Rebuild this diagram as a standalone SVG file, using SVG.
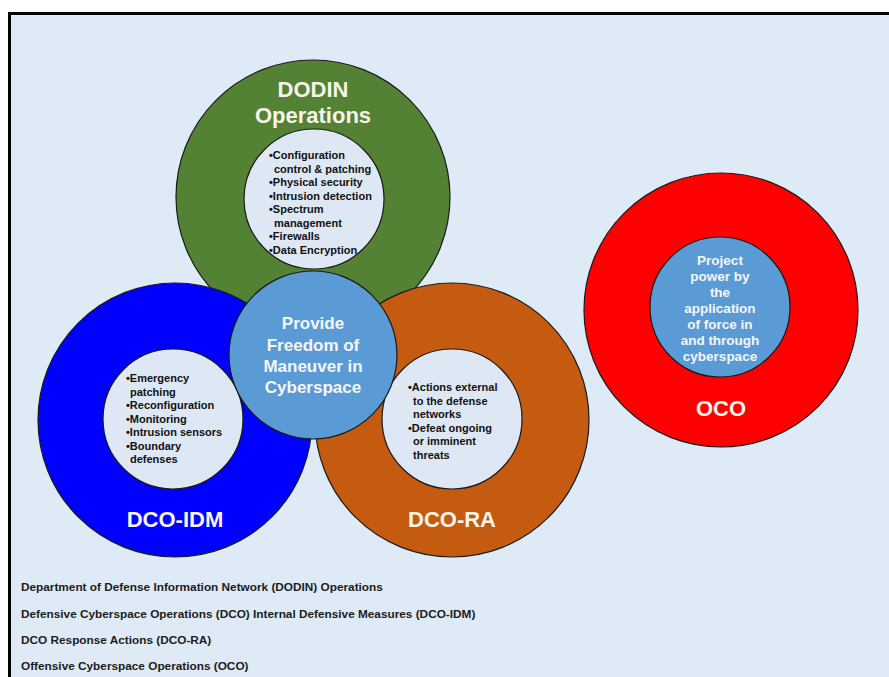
<svg xmlns="http://www.w3.org/2000/svg" width="889" height="677" viewBox="0 0 889 677">
<style>
.ring{stroke:#1a1a1a;stroke-width:1.2}
.inner{fill:#DDE8F4;stroke:#1a1a1a;stroke-width:1.2}
.t{font-family:"Liberation Sans",Arial,sans-serif;font-weight:bold}
.big{font-size:22px;fill:#F7F4EA;text-anchor:middle}
.mid{font-size:17px;fill:#F4F6FA;text-anchor:middle}
.oco{font-size:13.5px;fill:#F4F6FA;text-anchor:middle}
.b{font-size:11px;fill:#111}
.leg{font-size:11.8px;fill:#1c1c1c}
</style>
<rect x="0" y="0" width="889" height="677" fill="#FFFFFF"/>
<rect x="9.5" y="13.5" width="890" height="680" fill="#DEEAF6" stroke="#000" stroke-width="3"/>
<g id="connectors"/>
<g id="dodin">
<circle class="ring" cx="313" cy="197" r="137" fill="#548235"/>
</g>
<g id="dco-idm">
<circle class="ring" cx="175" cy="420" r="137" fill="#0000FF"/>
</g>
<g id="dco-ra">
<circle class="ring" cx="452" cy="420" r="137" fill="#C55A11"/>
</g>
<g id="dodin-content">
<text class="t big" x="313" y="97">DODIN</text>
<text class="t big" x="313" y="123">Operations</text>
<circle class="inner" cx="314" cy="199" r="70"/>
<text class="t b" x="269" y="159">•Configuration</text>
<text class="t b" x="274" y="172.5">control &amp; patching</text>
<text class="t b" x="269" y="186">•Physical security</text>
<text class="t b" x="269" y="199.5">•Intrusion detection</text>
<text class="t b" x="269" y="213">•Spectrum</text>
<text class="t b" x="274" y="226.5">management</text>
<text class="t b" x="269" y="240">•Firewalls</text>
<text class="t b" x="269" y="253.5">•Data Encryption</text>
</g>
<g id="dco-idm-content">
<circle class="inner" cx="173" cy="419" r="70"/>
<text class="t b" x="126" y="382">•Emergency</text>
<text class="t b" x="130" y="395.5">patching</text>
<text class="t b" x="126" y="409">•Reconfiguration</text>
<text class="t b" x="126" y="422.5">•Monitoring</text>
<text class="t b" x="126" y="436">•Intrusion sensors</text>
<text class="t b" x="126" y="449.5">•Boundary</text>
<text class="t b" x="130" y="463">defenses</text>
<text class="t big" x="175" y="527">DCO-IDM</text>
</g>
<g id="dco-ra-content">
<circle class="inner" cx="452" cy="419" r="70"/>
<text class="t b" x="408" y="391">•Actions external</text>
<text class="t b" x="413" y="404.5">to the defense</text>
<text class="t b" x="413" y="418">networks</text>
<text class="t b" x="408" y="431.5">•Defeat ongoing</text>
<text class="t b" x="413" y="445">or imminent</text>
<text class="t b" x="413" y="458.5">threats</text>
<text class="t big" x="452" y="527">DCO-RA</text>
</g>
<g id="center">
<circle class="ring" cx="313" cy="355" r="84" fill="#5B9BD5"/>
<text class="t mid" x="313" y="329">Provide</text>
<text class="t mid" x="313" y="350.5">Freedom of</text>
<text class="t mid" x="313" y="372">Maneuver in</text>
<text class="t mid" x="313" y="393">Cyberspace</text>
</g>
<g id="oco">
<circle class="ring" cx="721" cy="310" r="137" fill="#FF0000"/>
<circle class="ring" cx="720" cy="307" r="70" fill="#5B9BD5"/>
<text class="t oco" x="720" y="265">Project</text>
<text class="t oco" x="720" y="281">power by</text>
<text class="t oco" x="720" y="297">the</text>
<text class="t oco" x="720" y="313">application</text>
<text class="t oco" x="720" y="329">of force in</text>
<text class="t oco" x="720" y="345">and through</text>
<text class="t oco" x="720" y="361">cyberspace</text>
<text class="t big" x="721" y="416">OCO</text>
</g>
<g id="legend">
<text class="t leg" x="21" y="591">Department of Defense Information Network (DODIN) Operations</text>
<text class="t leg" x="21" y="617.5">Defensive Cyberspace Operations (DCO) Internal Defensive Measures (DCO-IDM)</text>
<text class="t leg" x="21" y="644">DCO Response Actions (DCO-RA)</text>
<text class="t leg" x="21" y="670">Offensive Cyberspace Operations (OCO)</text>
</g>
</svg>
